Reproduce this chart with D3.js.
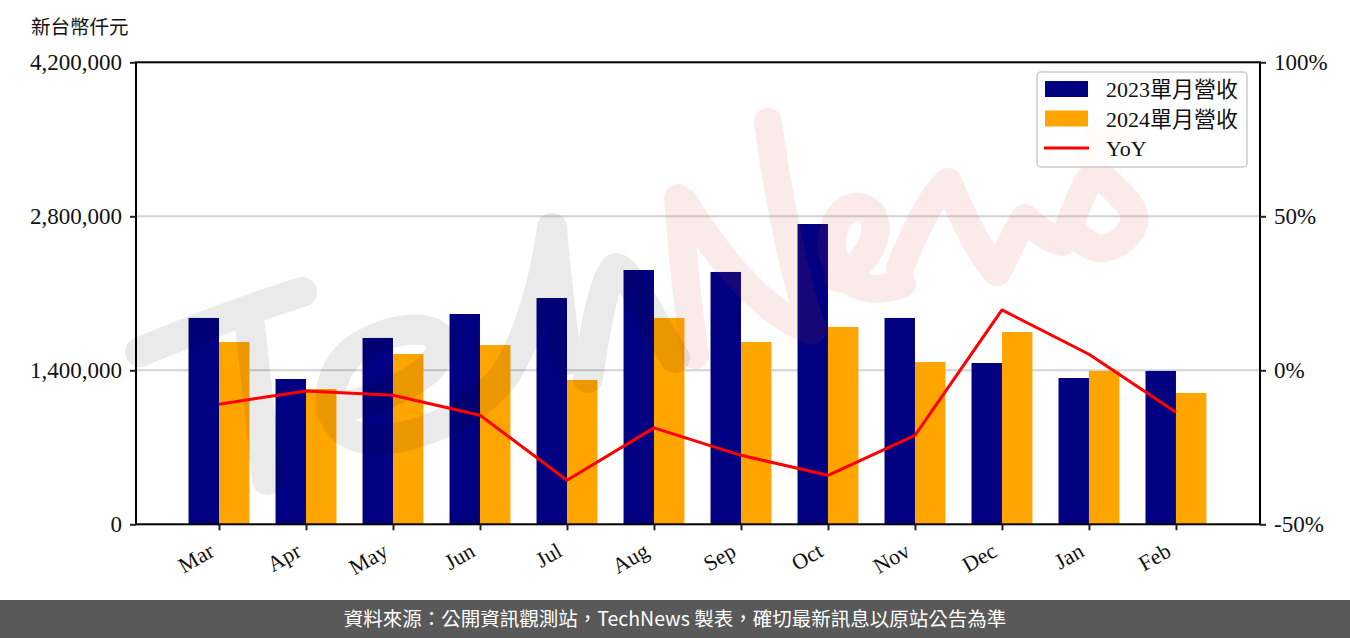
<!DOCTYPE html>
<html><head><meta charset="utf-8">
<script src="https://cdn.jsdelivr.net/npm/d3@7"></script>
<style>body{margin:0;background:#fff} svg{display:block}</style>
</head><body><svg id="c" width="1350" height="638"></svg>
<script>
const months = ["Mar","Apr","May","Jun","Jul","Aug","Sep","Oct","Nov","Dec","Jan","Feb"];
const rev2023 = [1876000,1321000,1694000,1912000,2057000,2312000,2294000,2730000,1876000,1466000,1330000,1394000];
const rev2024 = [1657000,1230000,1548000,1630000,1312000,1876000,1657000,1794000,1475000,1748000,1394000,1194000];
const yoy = [-0.110,-0.067,-0.081,-0.146,-0.357,-0.187,-0.276,-0.341,-0.211,0.196,0.052,-0.136];
const leftTicks = [0,1400000,2800000,4200000];
const rightTicks = [-0.5,0,0.5,1.0];
const seriesNames = ["2023單月營收","2024單月營收","YoY"];
const unitLabel = "新台幣仟元";
const footerText = "資料來源：公開資訊觀測站，TechNews 製表，確切最新訊息以原站公告為準";

const serif = "'Liberation Serif','Noto Sans CJK TC',serif";
const svg = d3.select("#c");
const L = 136, R = 1260, T = 62.3, B = 524.3;
const navy = "#000080", orange = "#FFA500", red = "#FF0000";

const x = d3.scaleLinear().domain([-0.954, 11.966]).range([L, R]);
const y = d3.scaleLinear().domain([0, 4200000]).range([B, T]);
const y2 = d3.scaleLinear().domain([-0.5, 1.0]).range([B, T]);
const bw = 0.35;

// grid
svg.append("g").selectAll("line").data(leftTicks.slice(1,3)).join("line")
  .attr("x1", L).attr("x2", R).attr("y1", d => y(d)).attr("y2", d => y(d))
  .attr("stroke", "#d3d3d3").attr("stroke-width", 2);

// bars
svg.append("g").selectAll("rect").data(rev2023).join("rect")
  .attr("x", (d,i) => x(i - bw)).attr("width", x(bw) - x(0))
  .attr("y", d => y(d)).attr("height", d => B - y(d)).attr("fill", navy);
svg.append("g").selectAll("rect").data(rev2024).join("rect")
  .attr("x", (d,i) => x(i)).attr("width", x(bw) - x(0))
  .attr("y", d => y(d)).attr("height", d => B - y(d)).attr("fill", orange);

// watermark
const wmG = svg.append("g").attr("opacity", 0.08)
  .attr("fill", "none").attr("stroke", "#000").attr("stroke-width", 30)
  .attr("stroke-linecap", "round").attr("stroke-linejoin", "round");
[
 "M140,352 Q220,318 302,292",
 "M250,326 C256,380 262,430 267,480",
 "M330,410 C370,402 430,382 440,352 C450,322 392,322 352,352 C322,378 322,430 362,438 C402,446 470,420 505,375 C530,335 545,280 552,228",
 "M552,228 C556,280 562,320 566,360",
 "M588,378 C595,330 603,280 616,268 C630,270 650,320 675,358"
].forEach(p => wmG.append("path").attr("d", p));
const wmP = svg.append("g").attr("opacity", 0.1)
  .attr("fill", "none").attr("stroke", "rgb(220,60,60)").attr("stroke-width", 28)
  .attr("stroke-linecap", "round").attr("stroke-linejoin", "round");
[
 "M678,198 C683,260 688,310 695,355",
 "M684,202 C720,262 770,318 812,330",
 "M768,122 C778,200 796,280 812,330",
 "M838,278 C870,262 882,232 872,214 C856,196 830,214 832,246 C835,280 862,298 902,284",
 "M900,268 C915,230 932,195 948,182 C962,215 980,255 997,272 C1008,250 1018,228 1025,218 C1038,230 1050,240 1062,242 C1072,220 1080,196 1088,182",
 "M1138,128 C1100,118 1080,150 1100,175 C1120,195 1152,215 1122,240 C1102,255 1088,246 1078,236"
].forEach(p => wmP.append("path").attr("d", p));

// YoY line
svg.append("path").datum(yoy)
  .attr("d", d3.line().x((d,i) => x(i)).y(d => y2(d)))
  .attr("fill", "none").attr("stroke", red).attr("stroke-width", 3).attr("stroke-linejoin", "round");

// frame
svg.append("rect").attr("x", L).attr("y", T).attr("width", R - L).attr("height", B - T)
  .attr("fill", "none").attr("stroke", "#000").attr("stroke-width", 2);

// axes
const pct = d => (d3.format(".0%")(d)).replace("\u2212", "-");
const axL = svg.append("g").attr("transform", `translate(${L},0)`)
  .call(d3.axisLeft(y).tickValues(leftTicks).tickFormat(d3.format(",")).tickSizeOuter(0).tickSize(6).tickPadding(8));
const axR = svg.append("g").attr("transform", `translate(${R},0)`)
  .call(d3.axisRight(y2).tickValues(rightTicks).tickFormat(pct).tickSizeOuter(0).tickSize(6).tickPadding(8));
const axB = svg.append("g").attr("transform", `translate(0,${B})`)
  .call(d3.axisBottom(x).tickValues(d3.range(12)).tickFormat(i => months[i]).tickSizeOuter(0).tickSize(6));
[axL, axR, axB].forEach(a => {
  a.select(".domain").remove();
  a.selectAll(".tick line").attr("stroke", "#222").attr("stroke-width", 2);
  a.selectAll("text").attr("font-family", serif).attr("font-size", 23).attr("fill", "#111");
});
axB.selectAll("text").attr("font-size", 22);
axB.selectAll(".tick text")
  .attr("text-anchor", "end").attr("y", 0).attr("dy", 0)
  .attr("transform", "translate(-4,31) rotate(-30)");

// unit label
svg.append("text").attr("x", 31).attr("y", 34).text(unitLabel)
  .attr("font-family", serif).attr("font-size", 19.5).attr("fill", "#111");

// legend
const lg = svg.append("g");
lg.append("rect").attr("x", 1037).attr("y", 72).attr("width", 210).attr("height", 95).attr("rx", 4)
  .attr("fill", "#fff").attr("fill-opacity", 0.8).attr("stroke", "#ccc").attr("stroke-width", 1.5);
const lc = [navy, orange, red];
seriesNames.forEach((n, i) => {
  const cy = 89 + i * 29.5;
  if (i < 2) lg.append("rect").attr("x", 1045).attr("y", cy - 8).attr("width", 43).attr("height", 16).attr("fill", lc[i]);
  else lg.append("line").attr("x1", 1044).attr("x2", 1089).attr("y1", cy).attr("y2", cy).attr("stroke", red).attr("stroke-width", 3);
  lg.append("text").attr("x", 1106).attr("y", cy + 8).text(n)
    .attr("font-family", serif).attr("font-size", 22).attr("fill", "#111");
});

// footer
svg.append("rect").attr("x", 0).attr("y", 600).attr("width", 1350).attr("height", 38).attr("fill", "#595959");
svg.append("text").attr("x", 675).attr("y", 626).attr("text-anchor", "middle").text(footerText)
  .attr("font-family", "'Noto Sans CJK TC',sans-serif").attr("font-size", 19.5).attr("fill", "#fff");
</script>
</body></html>
